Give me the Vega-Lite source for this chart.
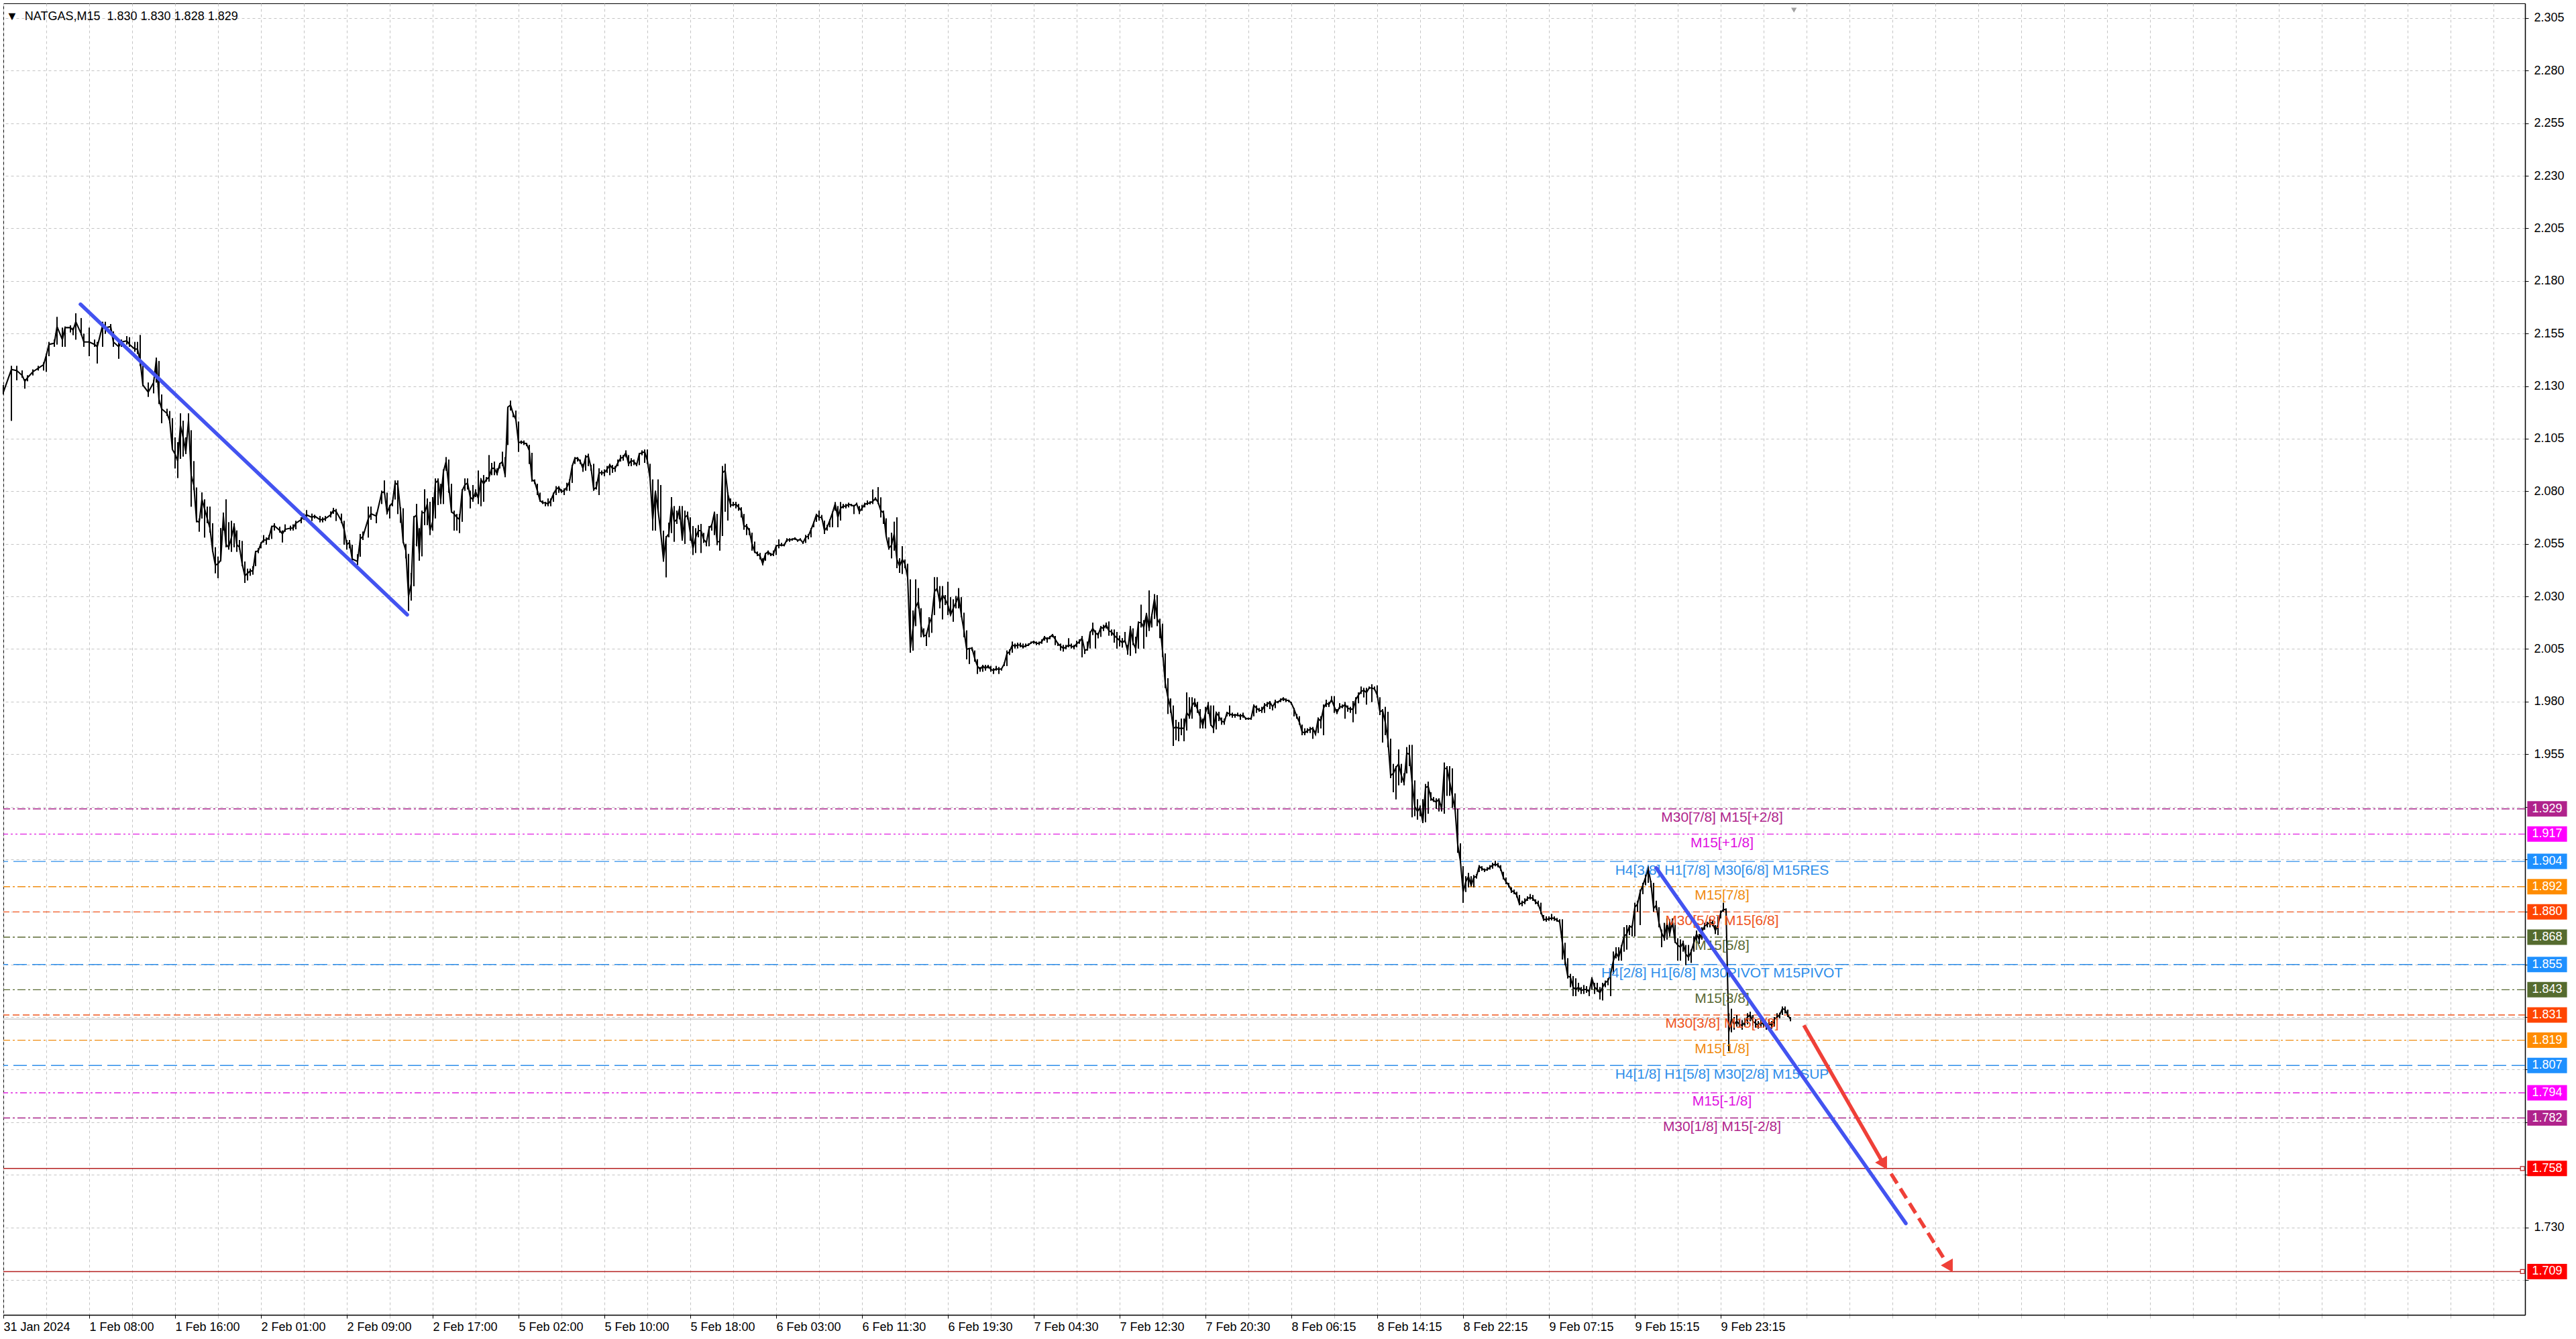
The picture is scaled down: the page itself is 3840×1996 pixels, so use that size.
{
"$schema": "https://vega.github.io/schema/vega-lite/v6.json",
"width": 3759, "height": 1955,
"autosize": {"type": "none"},
"padding": {"left": 5, "top": 5, "right": 76, "bottom": 36},
"background": "#ffffff",
"config": {"view": {"stroke": "#000000", "strokeWidth": 1}},
"datasets": {
"levels": [
{"v":1.929,"t":"x2","lab":"M30[7/8] M15[+2/8]"},
{"v":1.917,"t":"x1","lab":"M15[+1/8]"},
{"v":1.904,"t":"maj","lab":"H4[3/8] H1[7/8] M30[6/8] M15RES"},
{"v":1.892,"t":"o","lab":"M15[7/8]"},
{"v":1.880,"t":"m","lab":"M30[5/8] M15[6/8]"},
{"v":1.868,"t":"n","lab":"M15[5/8]"},
{"v":1.855,"t":"maj","lab":"H4[2/8] H1[6/8] M30PIVOT M15PIVOT"},
{"v":1.843,"t":"n","lab":"M15[3/8]"},
{"v":1.831,"t":"m","lab":"M30[3/8] M15[2/8]"},
{"v":1.819,"t":"o","lab":"M15[1/8]"},
{"v":1.807,"t":"maj","lab":"H4[1/8] H1[5/8] M30[2/8] M15SUP"},
{"v":1.794,"t":"x1","lab":"M15[-1/8]"},
{"v":1.782,"t":"x2","lab":"M30[1/8] M15[-2/8]"},
{"v":1.758,"t":"tgt","lab":""},
{"v":1.709,"t":"tgt","lab":""}
],
"trend": [
{"seg":"a","i":28.75,"p":2.1689},{"seg":"a","i":150.5,"p":2.0213},
{"seg":"b","i":616,"p":1.9009},{"seg":"b","i":709,"p":1.7319}
],
"arrow": [
{"seg":"now","i":671,"p":1.8261},{"seg":"now","i":701,"p":1.7595},
{"seg":"next","i":703.5,"p":1.7555},{"seg":"next","i":725,"p":1.7115}
],
"heads": [{"seg":"now","i":700.5,"p":1.7608},{"seg":"next","i":725,"p":1.7119}],
"bars": [
{"i":0,"c":2.1271,"h":2.1305,"l":2.1260},
{"i":3,"c":2.1379,"h":2.1396,"l":2.1135},
{"i":5,"c":2.1374,"h":2.1396,"l":2.1328},
{"i":7,"c":2.1351,"h":2.1374,"l":2.1340},
{"i":8,"c":2.1323,"h":2.1334,"l":2.1288},
{"i":9,"c":2.1340,"h":2.1351,"l":2.1323},
{"i":11,"c":2.1368,"h":2.1379,"l":2.1351},
{"i":13,"c":2.1385,"h":2.1396,"l":2.1374},
{"i":15,"c":2.1402,"h":2.1413,"l":2.1374},
{"i":16,"c":2.1447,"h":2.1453,"l":2.1368},
{"i":17,"c":2.1498,"h":2.1510,"l":2.1442},
{"i":19,"c":2.1504,"h":2.1521,"l":2.1487},
{"i":20,"c":2.1583,"h":2.1629,"l":2.1498},
{"i":22,"c":2.1521,"h":2.1578,"l":2.1487},
{"i":23,"c":2.1578,"h":2.1583,"l":2.1487},
{"i":25,"c":2.1578,"h":2.1589,"l":2.1555},
{"i":26,"c":2.1566,"h":2.1578,"l":2.1543},
{"i":27,"c":2.1606,"h":2.1646,"l":2.1521},
{"i":29,"c":2.1549,"h":2.1623,"l":2.1543},
{"i":30,"c":2.1510,"h":2.1549,"l":2.1487},
{"i":32,"c":2.1510,"h":2.1578,"l":2.1442},
{"i":34,"c":2.1498,"h":2.1521,"l":2.1487},
{"i":35,"c":2.1487,"h":2.1510,"l":2.1408},
{"i":37,"c":2.1589,"h":2.1606,"l":2.1487},
{"i":38,"c":2.1578,"h":2.1606,"l":2.1549},
{"i":40,"c":2.1583,"h":2.1595,"l":2.1566},
{"i":41,"c":2.1510,"h":2.1560,"l":2.1487},
{"i":43,"c":2.1487,"h":2.1521,"l":2.1430},
{"i":44,"c":2.1510,"h":2.1521,"l":2.1487},
{"i":46,"c":2.1515,"h":2.1538,"l":2.1498},
{"i":47,"c":2.1498,"h":2.1532,"l":2.1487},
{"i":49,"c":2.1476,"h":2.1510,"l":2.1464},
{"i":50,"c":2.1476,"h":2.1510,"l":2.1453},
{"i":51,"c":2.1419,"h":2.1543,"l":2.1396},
{"i":52,"c":2.1305,"h":2.1408,"l":2.1300},
{"i":54,"c":2.1271,"h":2.1317,"l":2.1249},
{"i":56,"c":2.1317,"h":2.1328,"l":2.1266},
{"i":57,"c":2.1425,"h":2.1436,"l":2.1317},
{"i":58,"c":2.1237,"h":2.1419,"l":2.1215},
{"i":59,"c":2.1192,"h":2.1260,"l":2.1124},
{"i":61,"c":2.1170,"h":2.1192,"l":2.1158},
{"i":62,"c":2.1135,"h":2.1181,"l":2.1124},
{"i":63,"c":2.0999,"h":2.1147,"l":2.0999},
{"i":64,"c":2.0977,"h":2.1056,"l":2.0909},
{"i":65,"c":2.0943,"h":2.1033,"l":2.0863},
{"i":66,"c":2.1113,"h":2.1170,"l":2.0954},
{"i":67,"c":2.1056,"h":2.1135,"l":2.0965},
{"i":68,"c":2.0988,"h":2.1056,"l":2.0977},
{"i":69,"c":2.1135,"h":2.1170,"l":2.1102},
{"i":70,"c":2.0875,"h":2.1090,"l":2.0727},
{"i":71,"c":2.0829,"h":2.0943,"l":2.0807},
{"i":72,"c":2.0659,"h":2.0818,"l":2.0653},
{"i":73,"c":2.0653,"h":2.0670,"l":2.0608},
{"i":74,"c":2.0761,"h":2.0795,"l":2.0670},
{"i":75,"c":2.0716,"h":2.0761,"l":2.0580},
{"i":76,"c":2.0670,"h":2.0727,"l":2.0648},
{"i":77,"c":2.0625,"h":2.0727,"l":2.0603},
{"i":78,"c":2.0517,"h":2.0648,"l":2.0512},
{"i":79,"c":2.0449,"h":2.0534,"l":2.0410},
{"i":80,"c":2.0455,"h":2.0489,"l":2.0387},
{"i":81,"c":2.0472,"h":2.0625,"l":2.0466},
{"i":82,"c":2.0682,"h":2.0699,"l":2.0614},
{"i":83,"c":2.0546,"h":2.0761,"l":2.0534},
{"i":84,"c":2.0534,"h":2.0653,"l":2.0523},
{"i":85,"c":2.0580,"h":2.0659,"l":2.0512},
{"i":86,"c":2.0636,"h":2.0648,"l":2.0534},
{"i":87,"c":2.0546,"h":2.0614,"l":2.0512},
{"i":88,"c":2.0534,"h":2.0568,"l":2.0523},
{"i":89,"c":2.0455,"h":2.0563,"l":2.0444},
{"i":90,"c":2.0398,"h":2.0466,"l":2.0364},
{"i":91,"c":2.0410,"h":2.0432,"l":2.0376},
{"i":92,"c":2.0421,"h":2.0432,"l":2.0398},
{"i":93,"c":2.0421,"h":2.0444,"l":2.0404},
{"i":94,"c":2.0512,"h":2.0517,"l":2.0444},
{"i":95,"c":2.0517,"h":2.0529,"l":2.0506},
{"i":96,"c":2.0551,"h":2.0557,"l":2.0529},
{"i":97,"c":2.0568,"h":2.0591,"l":2.0557},
{"i":98,"c":2.0568,"h":2.0580,"l":2.0546},
{"i":99,"c":2.0580,"h":2.0591,"l":2.0568},
{"i":100,"c":2.0631,"h":2.0636,"l":2.0574},
{"i":101,"c":2.0636,"h":2.0648,"l":2.0614},
{"i":103,"c":2.0614,"h":2.0631,"l":2.0603},
{"i":104,"c":2.0597,"h":2.0614,"l":2.0557},
{"i":105,"c":2.0619,"h":2.0642,"l":2.0608},
{"i":107,"c":2.0625,"h":2.0636,"l":2.0614},
{"i":108,"c":2.0625,"h":2.0642,"l":2.0614},
{"i":109,"c":2.0648,"h":2.0659,"l":2.0619},
{"i":111,"c":2.0665,"h":2.0676,"l":2.0648},
{"i":112,"c":2.0682,"h":2.0693,"l":2.0665},
{"i":113,"c":2.0688,"h":2.0710,"l":2.0670},
{"i":115,"c":2.0676,"h":2.0693,"l":2.0659},
{"i":116,"c":2.0682,"h":2.0688,"l":2.0670},
{"i":118,"c":2.0665,"h":2.0682,"l":2.0653},
{"i":119,"c":2.0665,"h":2.0676,"l":2.0653},
{"i":120,"c":2.0670,"h":2.0682,"l":2.0659},
{"i":122,"c":2.0688,"h":2.0704,"l":2.0676},
{"i":123,"c":2.0710,"h":2.0721,"l":2.0693},
{"i":124,"c":2.0704,"h":2.0716,"l":2.0659},
{"i":126,"c":2.0659,"h":2.0693,"l":2.0648},
{"i":127,"c":2.0619,"h":2.0659,"l":2.0546},
{"i":128,"c":2.0546,"h":2.0568,"l":2.0523},
{"i":129,"c":2.0557,"h":2.0568,"l":2.0529},
{"i":130,"c":2.0478,"h":2.0546,"l":2.0455},
{"i":132,"c":2.0466,"h":2.0500,"l":2.0449},
{"i":133,"c":2.0574,"h":2.0597,"l":2.0489},
{"i":134,"c":2.0585,"h":2.0608,"l":2.0568},
{"i":136,"c":2.0670,"h":2.0727,"l":2.0580},
{"i":137,"c":2.0693,"h":2.0727,"l":2.0665},
{"i":139,"c":2.0682,"h":2.0699,"l":2.0648},
{"i":141,"c":2.0793,"h":2.0803,"l":2.0740},
{"i":142,"c":2.0798,"h":2.0851,"l":2.0787},
{"i":143,"c":2.0698,"h":2.0793,"l":2.0692},
{"i":144,"c":2.0729,"h":2.0735,"l":2.0671},
{"i":145,"c":2.0745,"h":2.0756,"l":2.0729},
{"i":146,"c":2.0840,"h":2.0851,"l":2.0761},
{"i":147,"c":2.0830,"h":2.0851,"l":2.0692},
{"i":148,"c":2.0708,"h":2.0724,"l":2.0650},
{"i":149,"c":2.0560,"h":2.0719,"l":2.0555},
{"i":150,"c":2.0518,"h":2.0550,"l":2.0481},
{"i":151,"c":2.0301,"h":2.0502,"l":2.0232},
{"i":152,"c":2.0359,"h":2.0412,"l":2.0280},
{"i":153,"c":2.0676,"h":2.0682,"l":2.0349},
{"i":154,"c":2.0687,"h":2.0740,"l":2.0539},
{"i":155,"c":2.0502,"h":2.0624,"l":2.0470},
{"i":156,"c":2.0698,"h":2.0708,"l":2.0491},
{"i":157,"c":2.0698,"h":2.0809,"l":2.0639},
{"i":158,"c":2.0740,"h":2.0766,"l":2.0639},
{"i":159,"c":2.0613,"h":2.0750,"l":2.0592},
{"i":160,"c":2.0655,"h":2.0772,"l":2.0613},
{"i":161,"c":2.0840,"h":2.0861,"l":2.0671},
{"i":162,"c":2.0851,"h":2.0861,"l":2.0735},
{"i":163,"c":2.0761,"h":2.0835,"l":2.0740},
{"i":164,"c":2.0893,"h":2.0904,"l":2.0740},
{"i":165,"c":2.0941,"h":2.0962,"l":2.0898},
{"i":166,"c":2.0824,"h":2.0951,"l":2.0793},
{"i":167,"c":2.0703,"h":2.0835,"l":2.0698},
{"i":168,"c":2.0692,"h":2.0708,"l":2.0613},
{"i":169,"c":2.0676,"h":2.0692,"l":2.0613},
{"i":170,"c":2.0666,"h":2.0692,"l":2.0602},
{"i":171,"c":2.0803,"h":2.0809,"l":2.0655},
{"i":172,"c":2.0830,"h":2.0861,"l":2.0803},
{"i":173,"c":2.0840,"h":2.0861,"l":2.0809},
{"i":174,"c":2.0772,"h":2.0803,"l":2.0719},
{"i":175,"c":2.0761,"h":2.0830,"l":2.0750},
{"i":176,"c":2.0798,"h":2.0809,"l":2.0772},
{"i":177,"c":2.0766,"h":2.0898,"l":2.0740},
{"i":178,"c":2.0856,"h":2.0861,"l":2.0729},
{"i":179,"c":2.0835,"h":2.0877,"l":2.0750},
{"i":180,"c":2.0856,"h":2.0867,"l":2.0846},
{"i":181,"c":2.0867,"h":2.0972,"l":2.0846},
{"i":182,"c":2.0909,"h":2.0935,"l":2.0877},
{"i":183,"c":2.0909,"h":2.0941,"l":2.0877},
{"i":184,"c":2.0883,"h":2.0909,"l":2.0877},
{"i":185,"c":2.0930,"h":2.0935,"l":2.0909},
{"i":186,"c":2.0941,"h":2.0988,"l":2.0920},
{"i":187,"c":2.0877,"h":2.0962,"l":2.0867},
{"i":188,"c":2.1200,"h":2.1200,"l":2.1020},
{"i":189,"c":2.1210,"h":2.1231,"l":2.1184},
{"i":190,"c":2.1168,"h":2.1173,"l":2.1152},
{"i":191,"c":2.1141,"h":2.1184,"l":2.1136},
{"i":192,"c":2.1030,"h":2.1131,"l":2.0988},
{"i":193,"c":2.1036,"h":2.1041,"l":2.1025},
{"i":194,"c":2.1030,"h":2.1041,"l":2.1020},
{"i":195,"c":2.1025,"h":2.1030,"l":2.1015},
{"i":196,"c":2.0994,"h":2.1020,"l":2.0930},
{"i":197,"c":2.0856,"h":2.0983,"l":2.0846},
{"i":198,"c":2.0846,"h":2.0856,"l":2.0835},
{"i":199,"c":2.0803,"h":2.0835,"l":2.0782},
{"i":200,"c":2.0756,"h":2.0793,"l":2.0750},
{"i":201,"c":2.0745,"h":2.0756,"l":2.0740},
{"i":202,"c":2.0745,"h":2.0750,"l":2.0729},
{"i":203,"c":2.0740,"h":2.0766,"l":2.0729},
{"i":204,"c":2.0756,"h":2.0766,"l":2.0729},
{"i":205,"c":2.0787,"h":2.0793,"l":2.0750},
{"i":206,"c":2.0809,"h":2.0824,"l":2.0782},
{"i":207,"c":2.0819,"h":2.0824,"l":2.0793},
{"i":208,"c":2.0798,"h":2.0809,"l":2.0793},
{"i":209,"c":2.0803,"h":2.0814,"l":2.0782},
{"i":210,"c":2.0819,"h":2.0840,"l":2.0803},
{"i":211,"c":2.0846,"h":2.0856,"l":2.0803},
{"i":212,"c":2.0920,"h":2.0925,"l":2.0840},
{"i":213,"c":2.0957,"h":2.0962,"l":2.0930},
{"i":214,"c":2.0957,"h":2.0962,"l":2.0941},
{"i":215,"c":2.0941,"h":2.0951,"l":2.0930},
{"i":216,"c":2.0909,"h":2.0930,"l":2.0893},
{"i":217,"c":2.0962,"h":2.0972,"l":2.0898},
{"i":218,"c":2.0967,"h":2.0978,"l":2.0920},
{"i":219,"c":2.0914,"h":2.0925,"l":2.0898},
{"i":220,"c":2.0809,"h":2.0930,"l":2.0803},
{"i":221,"c":2.0819,"h":2.0846,"l":2.0809},
{"i":222,"c":2.0888,"h":2.0909,"l":2.0782},
{"i":223,"c":2.0888,"h":2.0898,"l":2.0877},
{"i":224,"c":2.0888,"h":2.0904,"l":2.0872},
{"i":225,"c":2.0904,"h":2.0920,"l":2.0888},
{"i":226,"c":2.0925,"h":2.0930,"l":2.0877},
{"i":227,"c":2.0909,"h":2.0925,"l":2.0888},
{"i":228,"c":2.0909,"h":2.0920,"l":2.0893},
{"i":229,"c":2.0935,"h":2.0951,"l":2.0920},
{"i":230,"c":2.0957,"h":2.0972,"l":2.0941},
{"i":231,"c":2.0962,"h":2.0972,"l":2.0946},
{"i":232,"c":2.0983,"h":2.0994,"l":2.0962},
{"i":233,"c":2.0930,"h":2.0972,"l":2.0920},
{"i":234,"c":2.0946,"h":2.0957,"l":2.0920},
{"i":235,"c":2.0941,"h":2.0951,"l":2.0925},
{"i":236,"c":2.0925,"h":2.0935,"l":2.0920},
{"i":237,"c":2.0978,"h":2.0983,"l":2.0925},
{"i":238,"c":2.0983,"h":2.0994,"l":2.0972},
{"i":239,"c":2.0988,"h":2.0999,"l":2.0935},
{"i":240,"c":2.0946,"h":2.0999,"l":2.0930},
{"i":241,"c":2.0861,"h":2.0930,"l":2.0856},
{"i":242,"c":2.0666,"h":2.0856,"l":2.0613},
{"i":243,"c":2.0798,"h":2.0803,"l":2.0613},
{"i":244,"c":2.0708,"h":2.0856,"l":2.0708},
{"i":245,"c":2.0602,"h":2.0830,"l":2.0597},
{"i":246,"c":2.0476,"h":2.0613,"l":2.0465},
{"i":247,"c":2.0581,"h":2.0587,"l":2.0391},
{"i":248,"c":2.0597,"h":2.0650,"l":2.0581},
{"i":249,"c":2.0729,"h":2.0772,"l":2.0602},
{"i":250,"c":2.0655,"h":2.0729,"l":2.0560},
{"i":251,"c":2.0666,"h":2.0708,"l":2.0645},
{"i":252,"c":2.0719,"h":2.0729,"l":2.0666},
{"i":253,"c":2.0571,"h":2.0729,"l":2.0565},
{"i":254,"c":2.0676,"h":2.0708,"l":2.0550},
{"i":255,"c":2.0687,"h":2.0703,"l":2.0666},
{"i":256,"c":2.0602,"h":2.0676,"l":2.0565},
{"i":257,"c":2.0528,"h":2.0634,"l":2.0497},
{"i":258,"c":2.0581,"h":2.0624,"l":2.0507},
{"i":259,"c":2.0613,"h":2.0639,"l":2.0581},
{"i":260,"c":2.0613,"h":2.0645,"l":2.0507},
{"i":261,"c":2.0571,"h":2.0602,"l":2.0555},
{"i":262,"c":2.0555,"h":2.0565,"l":2.0539},
{"i":263,"c":2.0624,"h":2.0634,"l":2.0539},
{"i":264,"c":2.0639,"h":2.0645,"l":2.0613},
{"i":265,"c":2.0698,"h":2.0703,"l":2.0592},
{"i":266,"c":2.0560,"h":2.0692,"l":2.0544},
{"i":267,"c":2.0560,"h":2.0571,"l":2.0518},
{"i":268,"c":2.0888,"h":2.0920,"l":2.0587},
{"i":269,"c":2.0898,"h":2.0930,"l":2.0703},
{"i":270,"c":2.0787,"h":2.0793,"l":2.0661},
{"i":271,"c":2.0735,"h":2.0766,"l":2.0724},
{"i":272,"c":2.0735,"h":2.0750,"l":2.0729},
{"i":273,"c":2.0738,"h":2.0750,"l":2.0719},
{"i":274,"c":2.0724,"h":2.0740,"l":2.0708},
{"i":275,"c":2.0708,"h":2.0724,"l":2.0676},
{"i":276,"c":2.0634,"h":2.0692,"l":2.0618},
{"i":277,"c":2.0634,"h":2.0645,"l":2.0592},
{"i":278,"c":2.0613,"h":2.0624,"l":2.0592},
{"i":279,"c":2.0550,"h":2.0603,"l":2.0518},
{"i":280,"c":2.0513,"h":2.0560,"l":2.0507},
{"i":281,"c":2.0502,"h":2.0513,"l":2.0492},
{"i":282,"c":2.0492,"h":2.0507,"l":2.0476},
{"i":283,"c":2.0455,"h":2.0481,"l":2.0449},
{"i":284,"c":2.0502,"h":2.0507,"l":2.0470},
{"i":285,"c":2.0513,"h":2.0518,"l":2.0497},
{"i":286,"c":2.0497,"h":2.0507,"l":2.0492},
{"i":287,"c":2.0502,"h":2.0518,"l":2.0492},
{"i":288,"c":2.0539,"h":2.0544,"l":2.0497},
{"i":289,"c":2.0544,"h":2.0571,"l":2.0529},
{"i":290,"c":2.0544,"h":2.0555,"l":2.0539},
{"i":291,"c":2.0544,"h":2.0550,"l":2.0539},
{"i":292,"c":2.0569,"h":2.0576,"l":2.0560},
{"i":293,"c":2.0569,"h":2.0576,"l":2.0560},
{"i":294,"c":2.0571,"h":2.0576,"l":2.0566},
{"i":295,"c":2.0576,"h":2.0581,"l":2.0569},
{"i":296,"c":2.0566,"h":2.0571,"l":2.0560},
{"i":297,"c":2.0571,"h":2.0576,"l":2.0566},
{"i":298,"c":2.0555,"h":2.0560,"l":2.0550},
{"i":299,"c":2.0581,"h":2.0592,"l":2.0555},
{"i":300,"c":2.0587,"h":2.0597,"l":2.0571},
{"i":301,"c":2.0618,"h":2.0624,"l":2.0581},
{"i":302,"c":2.0650,"h":2.0655,"l":2.0629},
{"i":303,"c":2.0689,"h":2.0692,"l":2.0655},
{"i":304,"c":2.0676,"h":2.0708,"l":2.0661},
{"i":305,"c":2.0676,"h":2.0687,"l":2.0666},
{"i":306,"c":2.0613,"h":2.0661,"l":2.0597},
{"i":307,"c":2.0629,"h":2.0640,"l":2.0613},
{"i":308,"c":2.0661,"h":2.0666,"l":2.0629},
{"i":309,"c":2.0698,"h":2.0703,"l":2.0629},
{"i":310,"c":2.0740,"h":2.0748,"l":2.0708},
{"i":311,"c":2.0676,"h":2.0729,"l":2.0629},
{"i":312,"c":2.0719,"h":2.0748,"l":2.0661},
{"i":313,"c":2.0729,"h":2.0740,"l":2.0719},
{"i":314,"c":2.0729,"h":2.0740,"l":2.0719},
{"i":315,"c":2.0738,"h":2.0745,"l":2.0724},
{"i":316,"c":2.0735,"h":2.0740,"l":2.0729},
{"i":317,"c":2.0729,"h":2.0735,"l":2.0692},
{"i":318,"c":2.0740,"h":2.0745,"l":2.0735},
{"i":319,"c":2.0703,"h":2.0729,"l":2.0692},
{"i":320,"c":2.0719,"h":2.0735,"l":2.0708},
{"i":321,"c":2.0738,"h":2.0745,"l":2.0724},
{"i":322,"c":2.0742,"h":2.0756,"l":2.0735},
{"i":323,"c":2.0745,"h":2.0752,"l":2.0738},
{"i":324,"c":2.0752,"h":2.0808,"l":2.0740},
{"i":325,"c":2.0766,"h":2.0771,"l":2.0756},
{"i":326,"c":2.0748,"h":2.0819,"l":2.0740},
{"i":327,"c":2.0708,"h":2.0771,"l":2.0676},
{"i":328,"c":2.0698,"h":2.0708,"l":2.0645},
{"i":329,"c":2.0587,"h":2.0671,"l":2.0587},
{"i":330,"c":2.0529,"h":2.0581,"l":2.0523},
{"i":331,"c":2.0544,"h":2.0603,"l":2.0481},
{"i":332,"c":2.0597,"h":2.0655,"l":2.0518},
{"i":333,"c":2.0476,"h":2.0676,"l":2.0434},
{"i":334,"c":2.0444,"h":2.0481,"l":2.0412},
{"i":335,"c":2.0476,"h":2.0539,"l":2.0407},
{"i":336,"c":2.0455,"h":2.0476,"l":2.0434},
{"i":337,"c":2.0391,"h":2.0455,"l":2.0381},
{"i":338,"c":2.0053,"h":2.0381,"l":2.0032},
{"i":339,"c":2.0148,"h":2.0233,"l":2.0043},
{"i":340,"c":2.0249,"h":2.0381,"l":2.0159},
{"i":341,"c":2.0275,"h":2.0339,"l":2.0244},
{"i":342,"c":2.0159,"h":2.0244,"l":2.0106},
{"i":343,"c":2.0112,"h":2.0148,"l":2.0106},
{"i":344,"c":2.0117,"h":2.0127,"l":2.0064},
{"i":345,"c":2.0170,"h":2.0201,"l":2.0106},
{"i":346,"c":2.0201,"h":2.0212,"l":2.0127},
{"i":347,"c":2.0323,"h":2.0391,"l":2.0212},
{"i":348,"c":2.0339,"h":2.0391,"l":2.0323},
{"i":349,"c":2.0270,"h":2.0349,"l":2.0244},
{"i":350,"c":2.0307,"h":2.0349,"l":2.0191},
{"i":351,"c":2.0286,"h":2.0307,"l":2.0259},
{"i":352,"c":2.0259,"h":2.0370,"l":2.0212},
{"i":353,"c":2.0212,"h":2.0296,"l":2.0212},
{"i":354,"c":2.0244,"h":2.0286,"l":2.0180},
{"i":355,"c":2.0270,"h":2.0302,"l":2.0244},
{"i":356,"c":2.0302,"h":2.0339,"l":2.0244},
{"i":357,"c":2.0212,"h":2.0296,"l":2.0201},
{"i":358,"c":2.0138,"h":2.0222,"l":2.0106},
{"i":359,"c":2.0048,"h":2.0138,"l":2.0001},
{"i":360,"c":2.0053,"h":2.0053,"l":1.9979},
{"i":361,"c":2.0053,"h":2.0059,"l":2.0043},
{"i":362,"c":2.0006,"h":2.0043,"l":1.9990},
{"i":363,"c":1.9969,"h":2.0001,"l":1.9932},
{"i":364,"c":1.9953,"h":1.9964,"l":1.9942},
{"i":365,"c":1.9969,"h":1.9974,"l":1.9942},
{"i":366,"c":1.9958,"h":1.9974,"l":1.9948},
{"i":367,"c":1.9969,"h":1.9974,"l":1.9958},
{"i":368,"c":1.9953,"h":1.9969,"l":1.9942},
{"i":369,"c":1.9948,"h":1.9958,"l":1.9932},
{"i":370,"c":1.9956,"h":1.9969,"l":1.9948},
{"i":371,"c":1.9953,"h":1.9964,"l":1.9932},
{"i":372,"c":1.9956,"h":1.9958,"l":1.9948},
{"i":373,"c":1.9979,"h":1.9985,"l":1.9969},
{"i":374,"c":2.0027,"h":2.0043,"l":1.9969},
{"i":375,"c":2.0038,"h":2.0048,"l":2.0022},
{"i":376,"c":2.0069,"h":2.0085,"l":2.0032},
{"i":377,"c":2.0064,"h":2.0075,"l":2.0053},
{"i":378,"c":2.0069,"h":2.0080,"l":2.0053},
{"i":379,"c":2.0069,"h":2.0080,"l":2.0059},
{"i":380,"c":2.0059,"h":2.0075,"l":2.0053},
{"i":381,"c":2.0066,"h":2.0075,"l":2.0059},
{"i":382,"c":2.0069,"h":2.0077,"l":2.0064},
{"i":383,"c":2.0080,"h":2.0085,"l":2.0075},
{"i":384,"c":2.0085,"h":2.0090,"l":2.0075},
{"i":385,"c":2.0077,"h":2.0085,"l":2.0069},
{"i":386,"c":2.0077,"h":2.0085,"l":2.0069},
{"i":387,"c":2.0085,"h":2.0096,"l":2.0075},
{"i":388,"c":2.0106,"h":2.0112,"l":2.0090},
{"i":389,"c":2.0096,"h":2.0106,"l":2.0080},
{"i":390,"c":2.0106,"h":2.0112,"l":2.0096},
{"i":391,"c":2.0117,"h":2.0122,"l":2.0106},
{"i":392,"c":2.0096,"h":2.0112,"l":2.0069},
{"i":393,"c":2.0075,"h":2.0080,"l":2.0064},
{"i":394,"c":2.0064,"h":2.0075,"l":2.0043},
{"i":395,"c":2.0053,"h":2.0069,"l":2.0038},
{"i":396,"c":2.0059,"h":2.0069,"l":2.0048},
{"i":397,"c":2.0069,"h":2.0101,"l":2.0059},
{"i":398,"c":2.0064,"h":2.0075,"l":2.0053},
{"i":399,"c":2.0059,"h":2.0069,"l":2.0048},
{"i":400,"c":2.0075,"h":2.0090,"l":2.0059},
{"i":401,"c":2.0085,"h":2.0096,"l":2.0075},
{"i":402,"c":2.0101,"h":2.0112,"l":2.0011},
{"i":403,"c":2.0043,"h":2.0048,"l":2.0027},
{"i":404,"c":2.0048,"h":2.0085,"l":2.0043},
{"i":405,"c":2.0127,"h":2.0133,"l":2.0053},
{"i":406,"c":2.0148,"h":2.0175,"l":2.0117},
{"i":407,"c":2.0127,"h":2.0138,"l":2.0053},
{"i":408,"c":2.0117,"h":2.0127,"l":2.0101},
{"i":409,"c":2.0153,"h":2.0159,"l":2.0108},
{"i":410,"c":2.0148,"h":2.0165,"l":2.0136},
{"i":411,"c":2.0165,"h":2.0176,"l":2.0148},
{"i":412,"c":2.0136,"h":2.0181,"l":2.0114},
{"i":413,"c":2.0131,"h":2.0142,"l":2.0114},
{"i":414,"c":2.0114,"h":2.0142,"l":2.0080},
{"i":415,"c":2.0102,"h":2.0131,"l":2.0052},
{"i":416,"c":2.0091,"h":2.0114,"l":2.0063},
{"i":417,"c":2.0080,"h":2.0102,"l":2.0057},
{"i":418,"c":2.0091,"h":2.0131,"l":2.0080},
{"i":419,"c":2.0040,"h":2.0069,"l":2.0023},
{"i":420,"c":2.0148,"h":2.0159,"l":2.0018},
{"i":421,"c":2.0080,"h":2.0148,"l":2.0069},
{"i":422,"c":2.0052,"h":2.0108,"l":2.0029},
{"i":423,"c":2.0176,"h":2.0181,"l":2.0052},
{"i":424,"c":2.0176,"h":2.0260,"l":2.0153},
{"i":425,"c":2.0153,"h":2.0187,"l":2.0052},
{"i":426,"c":2.0215,"h":2.0221,"l":2.0108},
{"i":427,"c":2.0148,"h":2.0328,"l":2.0136},
{"i":428,"c":2.0210,"h":2.0215,"l":2.0153},
{"i":429,"c":2.0289,"h":2.0311,"l":2.0193},
{"i":430,"c":2.0193,"h":2.0306,"l":2.0159},
{"i":431,"c":2.0170,"h":2.0193,"l":2.0102},
{"i":432,"c":2.0040,"h":2.0170,"l":2.0012},
{"i":433,"c":1.9888,"h":2.0029,"l":1.9865},
{"i":434,"c":1.9820,"h":1.9911,"l":1.9741},
{"i":435,"c":1.9769,"h":1.9815,"l":1.9747},
{"i":436,"c":1.9673,"h":1.9781,"l":1.9589},
{"i":437,"c":1.9679,"h":1.9713,"l":1.9617},
{"i":438,"c":1.9673,"h":1.9702,"l":1.9611},
{"i":439,"c":1.9673,"h":1.9719,"l":1.9640},
{"i":440,"c":1.9673,"h":1.9719,"l":1.9611},
{"i":441,"c":1.9747,"h":1.9843,"l":1.9662},
{"i":442,"c":1.9730,"h":1.9820,"l":1.9719},
{"i":443,"c":1.9781,"h":1.9820,"l":1.9719},
{"i":444,"c":1.9798,"h":1.9815,"l":1.9775},
{"i":445,"c":1.9764,"h":1.9798,"l":1.9747},
{"i":446,"c":1.9730,"h":1.9764,"l":1.9673},
{"i":447,"c":1.9685,"h":1.9719,"l":1.9673},
{"i":448,"c":1.9747,"h":1.9775,"l":1.9673},
{"i":449,"c":1.9786,"h":1.9798,"l":1.9741},
{"i":450,"c":1.9690,"h":1.9781,"l":1.9685},
{"i":451,"c":1.9673,"h":1.9781,"l":1.9651},
{"i":452,"c":1.9747,"h":1.9752,"l":1.9668},
{"i":453,"c":1.9730,"h":1.9752,"l":1.9707},
{"i":454,"c":1.9707,"h":1.9724,"l":1.9690},
{"i":455,"c":1.9702,"h":1.9719,"l":1.9690},
{"i":456,"c":1.9747,"h":1.9752,"l":1.9730},
{"i":457,"c":1.9741,"h":1.9781,"l":1.9730},
{"i":458,"c":1.9736,"h":1.9747,"l":1.9724},
{"i":459,"c":1.9736,"h":1.9741,"l":1.9724},
{"i":460,"c":1.9736,"h":1.9747,"l":1.9730},
{"i":461,"c":1.9730,"h":1.9741,"l":1.9713},
{"i":462,"c":1.9736,"h":1.9747,"l":1.9724},
{"i":463,"c":1.9719,"h":1.9724,"l":1.9713},
{"i":464,"c":1.9719,"h":1.9724,"l":1.9713},
{"i":465,"c":1.9719,"h":1.9724,"l":1.9713},
{"i":466,"c":1.9781,"h":1.9786,"l":1.9730},
{"i":467,"c":1.9769,"h":1.9781,"l":1.9747},
{"i":468,"c":1.9758,"h":1.9769,"l":1.9752},
{"i":469,"c":1.9758,"h":1.9775,"l":1.9747},
{"i":470,"c":1.9781,"h":1.9792,"l":1.9747},
{"i":471,"c":1.9786,"h":1.9798,"l":1.9775},
{"i":472,"c":1.9798,"h":1.9803,"l":1.9764},
{"i":473,"c":1.9775,"h":1.9781,"l":1.9758},
{"i":474,"c":1.9798,"h":1.9809,"l":1.9769},
{"i":475,"c":1.9798,"h":1.9803,"l":1.9792},
{"i":476,"c":1.9807,"h":1.9815,"l":1.9798},
{"i":477,"c":1.9815,"h":1.9820,"l":1.9803},
{"i":478,"c":1.9806,"h":1.9815,"l":1.9798},
{"i":479,"c":1.9806,"h":1.9809,"l":1.9798},
{"i":480,"c":1.9792,"h":1.9798,"l":1.9786},
{"i":481,"c":1.9764,"h":1.9769,"l":1.9730},
{"i":482,"c":1.9730,"h":1.9741,"l":1.9719},
{"i":483,"c":1.9702,"h":1.9730,"l":1.9690},
{"i":484,"c":1.9656,"h":1.9690,"l":1.9640},
{"i":485,"c":1.9651,"h":1.9673,"l":1.9640},
{"i":486,"c":1.9662,"h":1.9673,"l":1.9651},
{"i":487,"c":1.9668,"h":1.9679,"l":1.9651},
{"i":488,"c":1.9673,"h":1.9679,"l":1.9623},
{"i":489,"c":1.9645,"h":1.9662,"l":1.9640},
{"i":490,"c":1.9719,"h":1.9724,"l":1.9651},
{"i":491,"c":1.9707,"h":1.9730,"l":1.9673},
{"i":492,"c":1.9769,"h":1.9786,"l":1.9640},
{"i":493,"c":1.9792,"h":1.9809,"l":1.9775},
{"i":494,"c":1.9786,"h":1.9798,"l":1.9775},
{"i":495,"c":1.9809,"h":1.9826,"l":1.9798},
{"i":496,"c":1.9775,"h":1.9826,"l":1.9747},
{"i":497,"c":1.9747,"h":1.9764,"l":1.9741},
{"i":498,"c":1.9775,"h":1.9792,"l":1.9764},
{"i":499,"c":1.9775,"h":1.9786,"l":1.9769},
{"i":500,"c":1.9786,"h":1.9798,"l":1.9719},
{"i":501,"c":1.9769,"h":1.9781,"l":1.9752},
{"i":502,"c":1.9764,"h":1.9775,"l":1.9747},
{"i":503,"c":1.9764,"h":1.9803,"l":1.9702},
{"i":504,"c":1.9809,"h":1.9820,"l":1.9741},
{"i":505,"c":1.9831,"h":1.9843,"l":1.9792},
{"i":506,"c":1.9848,"h":1.9871,"l":1.9837},
{"i":507,"c":1.9854,"h":1.9865,"l":1.9820},
{"i":508,"c":1.9843,"h":1.9865,"l":1.9786},
{"i":509,"c":1.9865,"h":1.9871,"l":1.9860},
{"i":510,"c":1.9865,"h":1.9882,"l":1.9798},
{"i":511,"c":1.9860,"h":1.9871,"l":1.9854},
{"i":512,"c":1.9831,"h":1.9877,"l":1.9820},
{"i":513,"c":1.9752,"h":1.9820,"l":1.9736},
{"i":514,"c":1.9758,"h":1.9764,"l":1.9606},
{"i":515,"c":1.9702,"h":1.9775,"l":1.9640},
{"i":516,"c":1.9617,"h":1.9752,"l":1.9583},
{"i":517,"c":1.9448,"h":1.9623,"l":1.9436},
{"i":518,"c":1.9459,"h":1.9504,"l":1.9369},
{"i":519,"c":1.9487,"h":1.9493,"l":1.9335},
{"i":520,"c":1.9504,"h":1.9572,"l":1.9402},
{"i":521,"c":1.9448,"h":1.9504,"l":1.9414},
{"i":522,"c":1.9414,"h":1.9459,"l":1.9402},
{"i":523,"c":1.9555,"h":1.9583,"l":1.9459},
{"i":524,"c":1.9549,"h":1.9594,"l":1.9493},
{"i":525,"c":1.9414,"h":1.9594,"l":1.9250},
{"i":526,"c":1.9301,"h":1.9425,"l":1.9256},
{"i":527,"c":1.9278,"h":1.9335,"l":1.9239},
{"i":528,"c":1.9295,"h":1.9306,"l":1.9256},
{"i":529,"c":1.9227,"h":1.9335,"l":1.9222},
{"i":530,"c":1.9391,"h":1.9408,"l":1.9227},
{"i":531,"c":1.9397,"h":1.9419,"l":1.9267},
{"i":532,"c":1.9340,"h":1.9369,"l":1.9329},
{"i":533,"c":1.9329,"h":1.9346,"l":1.9323},
{"i":534,"c":1.9323,"h":1.9340,"l":1.9290},
{"i":535,"c":1.9335,"h":1.9340,"l":1.9278},
{"i":536,"c":1.9290,"h":1.9312,"l":1.9278},
{"i":537,"c":1.9482,"h":1.9510,"l":1.9267},
{"i":538,"c":1.9482,"h":1.9493,"l":1.9352},
{"i":539,"c":1.9419,"h":1.9493,"l":1.9352},
{"i":540,"c":1.9352,"h":1.9482,"l":1.9295},
{"i":541,"c":1.9290,"h":1.9363,"l":1.9284},
{"i":542,"c":1.9120,"h":1.9290,"l":1.9081},
{"i":543,"c":1.9041,"h":1.9126,"l":1.9035},
{"i":544,"c":1.8895,"h":1.9017,"l":1.8843},
{"i":545,"c":1.8943,"h":1.8969,"l":1.8895},
{"i":546,"c":1.8969,"h":1.8985,"l":1.8917},
{"i":547,"c":1.8927,"h":1.8969,"l":1.8922},
{"i":548,"c":1.8964,"h":1.8975,"l":1.8917},
{"i":549,"c":1.8969,"h":1.8980,"l":1.8959},
{"i":550,"c":1.9017,"h":1.9022,"l":1.8990},
{"i":551,"c":1.9006,"h":1.9017,"l":1.8996},
{"i":552,"c":1.8999,"h":1.9006,"l":1.8990},
{"i":553,"c":1.9001,"h":1.9012,"l":1.8996},
{"i":554,"c":1.9012,"h":1.9022,"l":1.9001},
{"i":555,"c":1.9022,"h":1.9033,"l":1.9006},
{"i":556,"c":1.9027,"h":1.9043,"l":1.9017},
{"i":557,"c":1.9022,"h":1.9033,"l":1.9012},
{"i":558,"c":1.9006,"h":1.9022,"l":1.8996},
{"i":559,"c":1.8964,"h":1.8990,"l":1.8954},
{"i":560,"c":1.8943,"h":1.8964,"l":1.8932},
{"i":561,"c":1.8927,"h":1.8938,"l":1.8917},
{"i":562,"c":1.8901,"h":1.8917,"l":1.8890},
{"i":563,"c":1.8895,"h":1.8906,"l":1.8885},
{"i":564,"c":1.8880,"h":1.8895,"l":1.8869},
{"i":565,"c":1.8837,"h":1.8880,"l":1.8832},
{"i":566,"c":1.8843,"h":1.8853,"l":1.8827},
{"i":567,"c":1.8848,"h":1.8864,"l":1.8837},
{"i":568,"c":1.8864,"h":1.8874,"l":1.8853},
{"i":569,"c":1.8869,"h":1.8885,"l":1.8859},
{"i":570,"c":1.8864,"h":1.8880,"l":1.8853},
{"i":571,"c":1.8848,"h":1.8859,"l":1.8837},
{"i":572,"c":1.8837,"h":1.8853,"l":1.8827},
{"i":573,"c":1.8801,"h":1.8843,"l":1.8790},
{"i":574,"c":1.8764,"h":1.8785,"l":1.8758},
{"i":575,"c":1.8764,"h":1.8779,"l":1.8753},
{"i":576,"c":1.8767,"h":1.8779,"l":1.8758},
{"i":577,"c":1.8771,"h":1.8790,"l":1.8760},
{"i":578,"c":1.8769,"h":1.8779,"l":1.8758},
{"i":579,"c":1.8760,"h":1.8771,"l":1.8753},
{"i":580,"c":1.8753,"h":1.8764,"l":1.8748},
{"i":581,"c":1.8653,"h":1.8764,"l":1.8574},
{"i":582,"c":1.8568,"h":1.8653,"l":1.8547},
{"i":583,"c":1.8495,"h":1.8579,"l":1.8484},
{"i":584,"c":1.8489,"h":1.8505,"l":1.8442},
{"i":585,"c":1.8442,"h":1.8495,"l":1.8400},
{"i":586,"c":1.8431,"h":1.8484,"l":1.8400},
{"i":587,"c":1.8442,"h":1.8463,"l":1.8421},
{"i":588,"c":1.8426,"h":1.8442,"l":1.8410},
{"i":589,"c":1.8431,"h":1.8452,"l":1.8410},
{"i":590,"c":1.8431,"h":1.8447,"l":1.8415},
{"i":591,"c":1.8421,"h":1.8431,"l":1.8400},
{"i":592,"c":1.8484,"h":1.8489,"l":1.8431},
{"i":593,"c":1.8442,"h":1.8463,"l":1.8410},
{"i":594,"c":1.8431,"h":1.8463,"l":1.8421},
{"i":595,"c":1.8415,"h":1.8442,"l":1.8384},
{"i":596,"c":1.8442,"h":1.8463,"l":1.8379},
{"i":597,"c":1.8463,"h":1.8473,"l":1.8442},
{"i":598,"c":1.8473,"h":1.8484,"l":1.8452},
{"i":599,"c":1.8505,"h":1.8516,"l":1.8400},
{"i":600,"c":1.8568,"h":1.8611,"l":1.8505},
{"i":601,"c":1.8605,"h":1.8632,"l":1.8579},
{"i":602,"c":1.8584,"h":1.8632,"l":1.8568},
{"i":603,"c":1.8632,"h":1.8642,"l":1.8568},
{"i":604,"c":1.8684,"h":1.8727,"l":1.8611},
{"i":605,"c":1.8695,"h":1.8737,"l":1.8621},
{"i":606,"c":1.8732,"h":1.8737,"l":1.8690},
{"i":607,"c":1.8727,"h":1.8737,"l":1.8684},
{"i":608,"c":1.8822,"h":1.8843,"l":1.8684},
{"i":609,"c":1.8837,"h":1.8853,"l":1.8801},
{"i":610,"c":1.8895,"h":1.8906,"l":1.8737},
{"i":611,"c":1.8927,"h":1.8938,"l":1.8885},
{"i":612,"c":1.8964,"h":1.8980,"l":1.8927},
{"i":613,"c":1.9006,"h":1.9017,"l":1.8938},
{"i":614,"c":1.8938,"h":1.8948,"l":1.8917},
{"i":615,"c":1.8816,"h":1.8938,"l":1.8801},
{"i":616,"c":1.8832,"h":1.8853,"l":1.8811},
{"i":617,"c":1.8748,"h":1.8822,"l":1.8727},
{"i":618,"c":1.8700,"h":1.8716,"l":1.8632},
{"i":619,"c":1.8674,"h":1.8748,"l":1.8663},
{"i":620,"c":1.8748,"h":1.8769,"l":1.8669},
{"i":621,"c":1.8695,"h":1.8764,"l":1.8684},
{"i":622,"c":1.8758,"h":1.8769,"l":1.8727},
{"i":623,"c":1.8658,"h":1.8748,"l":1.8653},
{"i":624,"c":1.8642,"h":1.8674,"l":1.8568},
{"i":625,"c":1.8632,"h":1.8669,"l":1.8568},
{"i":626,"c":1.8653,"h":1.8663,"l":1.8611},
{"i":627,"c":1.8600,"h":1.8642,"l":1.8547},
{"i":628,"c":1.8584,"h":1.8642,"l":1.8568},
{"i":629,"c":1.8611,"h":1.8621,"l":1.8558},
{"i":630,"c":1.8653,"h":1.8684,"l":1.8611},
{"i":631,"c":1.8695,"h":1.8711,"l":1.8653},
{"i":632,"c":1.8669,"h":1.8695,"l":1.8648},
{"i":633,"c":1.8706,"h":1.8727,"l":1.8669},
{"i":634,"c":1.8732,"h":1.8748,"l":1.8716},
{"i":635,"c":1.8742,"h":1.8753,"l":1.8727},
{"i":636,"c":1.8748,"h":1.8769,"l":1.8727},
{"i":637,"c":1.8748,"h":1.8758,"l":1.8732},
{"i":638,"c":1.8711,"h":1.8737,"l":1.8695},
{"i":639,"c":1.8737,"h":1.8779,"l":1.8690},
{"i":640,"c":1.8795,"h":1.8806,"l":1.8769},
{"i":641,"c":1.8811,"h":1.8843,"l":1.8801},
{"i":642,"c":1.8811,"h":1.8816,"l":1.8795},
{"i":643,"c":1.8228,"h":1.8318,"l":1.8138},
{"i":644,"c":1.8291,"h":1.8339,"l":1.8228},
{"i":645,"c":1.8265,"h":1.8300,"l":1.8240},
{"i":646,"c":1.8280,"h":1.8310,"l":1.8255},
{"i":647,"c":1.8265,"h":1.8291,"l":1.8250},
{"i":648,"c":1.8260,"h":1.8285,"l":1.8240},
{"i":649,"c":1.8275,"h":1.8295,"l":1.8255},
{"i":650,"c":1.8300,"h":1.8318,"l":1.8265},
{"i":651,"c":1.8310,"h":1.8325,"l":1.8280},
{"i":652,"c":1.8280,"h":1.8310,"l":1.8260},
{"i":653,"c":1.8270,"h":1.8290,"l":1.8250},
{"i":654,"c":1.8260,"h":1.8280,"l":1.8245},
{"i":655,"c":1.8275,"h":1.8290,"l":1.8255},
{"i":656,"c":1.8265,"h":1.8285,"l":1.8250},
{"i":657,"c":1.8255,"h":1.8275,"l":1.8240},
{"i":658,"c":1.8270,"h":1.8290,"l":1.8250},
{"i":659,"c":1.8260,"h":1.8280,"l":1.8245},
{"i":660,"c":1.8290,"h":1.8300,"l":1.8255},
{"i":661,"c":1.8300,"h":1.8318,"l":1.8285},
{"i":662,"c":1.8310,"h":1.8320,"l":1.8295},
{"i":663,"c":1.8340,"h":1.8350,"l":1.8310},
{"i":664,"c":1.8335,"h":1.8350,"l":1.8318},
{"i":665,"c":1.8310,"h":1.8335,"l":1.8300},
{"i":666,"c":1.8290,"h":1.8300,"l":1.8280}
]
},
"layer": [
{
"data": {"name": "bars"},
"mark": {"type": "rule", "color": "#000000", "strokeWidth": 1.7},
"encoding": {
"x": {"field": "i", "type": "quantitative", "title": null, "scale": {"domain": [0, 939.75], "nice": false, "zero": false},
"axis": {"orient": "bottom", "title": null,
"values": [0,16,32,48,64,80,96,112,128,144,160,176,192,208,224,240,256,272,288,304,320,336,352,368,384,400,416,432,448,464,480,496,512,528,544,560,576,592,608,624,640,656,672,688,704,720,736,752,768,784,800,816,832,848,864,880,896,912,928],
"labelExpr": "datum.value % 32 === 0 && datum.value <= 640 ? ['31 Jan 2024','1 Feb 08:00','1 Feb 16:00','2 Feb 01:00','2 Feb 09:00','2 Feb 17:00','5 Feb 02:00','5 Feb 10:00','5 Feb 18:00','6 Feb 03:00','6 Feb 11:30','6 Feb 19:30','7 Feb 04:30','7 Feb 12:30','7 Feb 20:30','8 Feb 06:15','8 Feb 14:15','8 Feb 22:15','9 Feb 07:15','9 Feb 15:15','9 Feb 23:15'][datum.value / 32] : ''",
"grid": true, "gridColor": "#c4c4c4", "gridDash": [4, 4], "gridWidth": 1,
"domain": true, "domainColor": "#000000", "domainWidth": 1.5,
"ticks": true, "tickSize": 5,
"tickColor": {"condition": {"test": "datum.value % 32 === 0 && datum.value <= 640", "value": "#000000"}, "value": "#c4c4c4"},
"labelAlign": "left", "labelBaseline": "top", "labelPadding": 4, "labelFont": "Liberation Sans", "labelFontSize": 18, "labelColor": "#000000",
"labelOverlap": false, "labelFlush": false}},
"y": {"field": "l", "type": "quantitative", "title": null, "scale": {"domain": [1.69, 2.3104], "nice": false, "zero": false},
"axis": {"orient": "right", "title": null,
"values": [1.705,1.73,1.755,1.78,1.805,1.83,1.855,1.88,1.905,1.93,1.955,1.98,2.005,2.03,2.055,2.08,2.105,2.13,2.155,2.18,2.205,2.23,2.255,2.28,2.305],
"labelExpr": "datum.value < 1.94 && abs(datum.value - 1.73) > 0.001 ? '' : format(datum.value, '.3f')",
"grid": true, "gridColor": "#c4c4c4", "gridDash": [4, 4], "gridWidth": 1,
"domain": true, "domainColor": "#000000", "domainWidth": 1.5,
"ticks": true, "tickSize": 5, "tickColor": "#000000",
"labelFont": "Liberation Sans", "labelFontSize": 18, "labelColor": "#000000", "labelPadding": 8, "labelBaseline": "middle",
"labelOverlap": false, "labelFlush": false}},
"y2": {"field": "h"}
}
},
{
"data": {"values": [{}]},
"mark": {"type": "rule", "color": "#c0c0c0", "strokeWidth": 1.2},
"encoding": {
"y": {"datum": 1.829, "type": "quantitative", "title": null, "scale": {"domain": [1.69, 2.3104], "nice": false, "zero": false}}
}
},
{
"data": {"name": "levels"},
"mark": {"type": "rule", "strokeWidth": 1.4},
"encoding": {
"y": {"field": "v", "type": "quantitative", "title": null, "scale": {"domain": [1.69, 2.3104], "nice": false, "zero": false}},
"stroke": {"field": "t", "type": "nominal", "legend": null,
"scale": {"domain": ["x2","x1","maj","o","m","n","tgt"], "range": ["#A8258A","#E020E0","#2E8EEA","#F08C10","#F0551E","#5A6A33","#B52020"]}},
"strokeDash": {"field": "t", "type": "nominal", "legend": null,
"scale": {"domain": ["x2","x1","maj","o","m","n","tgt"], "range": [[12,4,3,4],[10,4,3,4,3,4],[20,8],[12,4,3,4],[10,5],[12,4,3,4],[1,0]]}}
}
},
{
"data": {"name": "bars"},
"mark": {"type": "rule", "color": "#000000", "strokeWidth": 1.7},
"encoding": {
"x": {"field": "i", "type": "quantitative", "title": null, "scale": {"domain": [0, 939.75], "nice": false, "zero": false}},
"y": {"field": "l", "type": "quantitative", "title": null, "scale": {"domain": [1.69, 2.3104], "nice": false, "zero": false}},
"y2": {"field": "h"}
}
},
{
"data": {"name": "bars"},
"mark": {"type": "line", "color": "#000000", "strokeWidth": 2.1},
"encoding": {
"x": {"field": "i", "type": "quantitative", "title": null, "scale": {"domain": [0, 939.75], "nice": false, "zero": false}},
"y": {"field": "c", "type": "quantitative", "title": null, "scale": {"domain": [1.69, 2.3104], "nice": false, "zero": false}}
}
},
{
"data": {"name": "levels"},
"transform": [{"filter": "datum.lab !== ''"}],
"mark": {"type": "text", "align": "center", "baseline": "top", "dy": 2.5, "font": "Liberation Sans", "fontSize": 21},
"encoding": {
"x": {"datum": 640.5, "type": "quantitative", "title": null, "scale": {"domain": [0, 939.75], "nice": false, "zero": false}},
"y": {"field": "v", "type": "quantitative", "title": null, "scale": {"domain": [1.69, 2.3104], "nice": false, "zero": false}},
"text": {"field": "lab"},
"color": {"field": "t", "type": "nominal", "legend": null,
"scale": {"domain": ["x2","x1","maj","o","m","n","tgt"], "range": ["#B0258C","#E010E0","#2E8EEA","#F08C10","#EE5522","#5A6A33","#FF0000"]}}
}
},
{
"data": {"name": "trend"},
"mark": {"type": "line", "color": "#4353F0", "strokeWidth": 5.5, "strokeCap": "round"},
"encoding": {
"x": {"field": "i", "type": "quantitative", "title": null, "scale": {"domain": [0, 939.75], "nice": false, "zero": false}},
"y": {"field": "p", "type": "quantitative", "title": null, "scale": {"domain": [1.69, 2.3104], "nice": false, "zero": false}},
"detail": {"field": "seg"}
}
},
{
"data": {"name": "arrow"},
"transform": [{"filter": "datum.seg === 'now'"}],
"mark": {"type": "line", "color": "#EF4038", "strokeWidth": 5.5},
"encoding": {
"x": {"field": "i", "type": "quantitative", "title": null, "scale": {"domain": [0, 939.75], "nice": false, "zero": false}},
"y": {"field": "p", "type": "quantitative", "title": null, "scale": {"domain": [1.69, 2.3104], "nice": false, "zero": false}}
}
},
{
"data": {"name": "arrow"},
"transform": [{"filter": "datum.seg === 'next'"}],
"mark": {"type": "line", "color": "#EF4038", "strokeWidth": 5.5, "strokeDash": [17, 9]},
"encoding": {
"x": {"field": "i", "type": "quantitative", "title": null, "scale": {"domain": [0, 939.75], "nice": false, "zero": false}},
"y": {"field": "p", "type": "quantitative", "title": null, "scale": {"domain": [1.69, 2.3104], "nice": false, "zero": false}}
}
},
{
"data": {"name": "heads"},
"mark": {"type": "point", "shape": "triangle", "filled": true, "color": "#EF4038", "opacity": 1, "size": 420, "angle": 150},
"encoding": {
"x": {"field": "i", "type": "quantitative", "title": null, "scale": {"domain": [0, 939.75], "nice": false, "zero": false}},
"y": {"field": "p", "type": "quantitative", "title": null, "scale": {"domain": [1.69, 2.3104], "nice": false, "zero": false}}
}
},
{
"data": {"name": "levels"},
"transform": [{"filter": "datum.t === 'tgt'"}],
"mark": {"type": "point", "shape": "square", "filled": true, "fill": "#ffffff", "stroke": "#B52020", "strokeWidth": 1.2, "size": 36, "opacity": 1},
"encoding": {
"x": {"datum": 938.8, "type": "quantitative", "title": null, "scale": {"domain": [0, 939.75], "nice": false, "zero": false}},
"y": {"field": "v", "type": "quantitative", "title": null, "scale": {"domain": [1.69, 2.3104], "nice": false, "zero": false}}
}
},
{
"data": {"name": "levels"},
"mark": {"type": "bar", "size": 23, "clip": false},
"encoding": {
"x": {"datum": 940.6, "type": "quantitative", "title": null, "scale": {"domain": [0, 939.75], "nice": false, "zero": false}},
"x2": {"datum": 955.4},
"y": {"field": "v", "type": "quantitative", "title": null, "scale": {"domain": [1.69, 2.3104], "nice": false, "zero": false}},
"fill": {"field": "t", "type": "nominal", "legend": null,
"scale": {"domain": ["x2","x1","maj","o","m","n","tgt"], "range": ["#B0238C","#FF00FF","#1E90FF","#FF8C00","#FF4500","#556B2F","#FF0000"]}}
}
},
{
"data": {"name": "levels"},
"mark": {"type": "text", "align": "center", "baseline": "middle", "font": "Liberation Sans", "fontSize": 18, "color": "#ffffff", "clip": false},
"encoding": {
"x": {"datum": 948, "type": "quantitative", "title": null, "scale": {"domain": [0, 939.75], "nice": false, "zero": false}},
"y": {"field": "v", "type": "quantitative", "title": null, "scale": {"domain": [1.69, 2.3104], "nice": false, "zero": false}},
"text": {"field": "v", "type": "quantitative", "format": ".3f"}
}
},
{
"data": {"values": [{}]},
"mark": {"type": "text", "align": "left", "baseline": "middle", "font": "Liberation Sans", "fontSize": 18, "color": "#000000"},
"encoding": {
"x": {"datum": 1, "type": "quantitative", "title": null, "scale": {"domain": [0, 939.75], "nice": false, "zero": false}},
"y": {"datum": 2.3057, "type": "quantitative", "title": null, "scale": {"domain": [1.69, 2.3104], "nice": false, "zero": false}},
"text": {"value": "▼\u00a0\u00a0NATGAS,M15\u00a0\u00a01.830 1.830 1.828 1.829"}
}
},
{
"data": {"values": [{}]},
"mark": {"type": "point", "shape": "triangle-down", "filled": true, "color": "#a0a0a0", "opacity": 1, "size": 70},
"encoding": {
"x": {"datum": 667.3, "type": "quantitative", "title": null, "scale": {"domain": [0, 939.75], "nice": false, "zero": false}},
"y": {"datum": 2.3088, "type": "quantitative", "title": null, "scale": {"domain": [1.69, 2.3104], "nice": false, "zero": false}}
}
}
]
}
